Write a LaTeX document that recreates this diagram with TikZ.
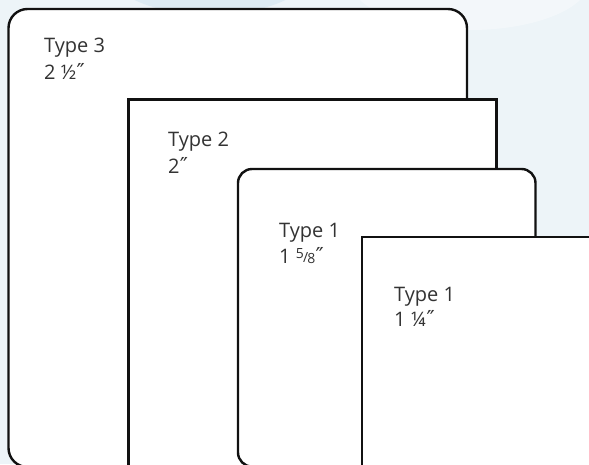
\documentclass[tikz,border=0pt]{standalone}
\usepackage{fontspec}
\setmainfont{Open Sans}
\newfontfamily\symfont{DejaVu Sans}
\definecolor{bgblue}{HTML}{EDF4F8}
\definecolor{bgdeep}{HTML}{D3E5F0}
\definecolor{txt}{HTML}{333333}
\definecolor{edge}{HTML}{111111}
\newcommand{\dprime}{{\symfont\fontsize{22}{22}\selectfont\kern0.3pt″}}
\newcommand{\fivesix}{{\fontsize{14}{14}\selectfont\raisebox{5pt}{5}\kern-0.8pt\raisebox{0.5pt}{/}\kern-0.8pt\raisebox{-0.8pt}{8}}}
\begin{document}
\begin{tikzpicture}[x=1pt,y=-1pt,
  card/.style={draw=edge,line width=2.4pt,fill=white},
  label/.style={anchor=base west,inner sep=0pt,text=txt,font=\fontsize{20}{20}\selectfont}]
\useasboundingbox (0,0) rectangle (589,464);
\begin{scope}
\clip (0,0) rectangle (589,464);
\fill[bgblue] (0,0) rectangle (589,464);
\fill[bgdeep,opacity=0.6] (210,-40) ellipse (110 and 55);
\fill[white,opacity=0.35] (470,-20) ellipse (120 and 50);
\path[card,rounded corners=19pt] (8.5,9) rectangle (467,467);
\path[card] (128.5,99.5) rectangle (496.5,472);
\path[card,rounded corners=14pt] (238,169) rectangle (535.5,466.5);
\path[card] (362,237) rectangle (600,472);
\end{scope}
\node[label] (t3) at (44,52) {Type 3};
\node[label] (s3) at (44,79) {2 ½\dprime};
\node[label] (t2) at (168,146.5) {Type 2};
\node[label] (s2) at (168,173) {2\dprime};
\node[label] (t1a) at (279,237) {Type 1};
\node[label] (s1a) at (279,263) {1 \fivesix\dprime};
\node[label] (t1b) at (394,301) {Type 1};
\node[label] (s1b) at (394,326.5) {1 ¼\dprime};
\end{tikzpicture}
\end{document}
